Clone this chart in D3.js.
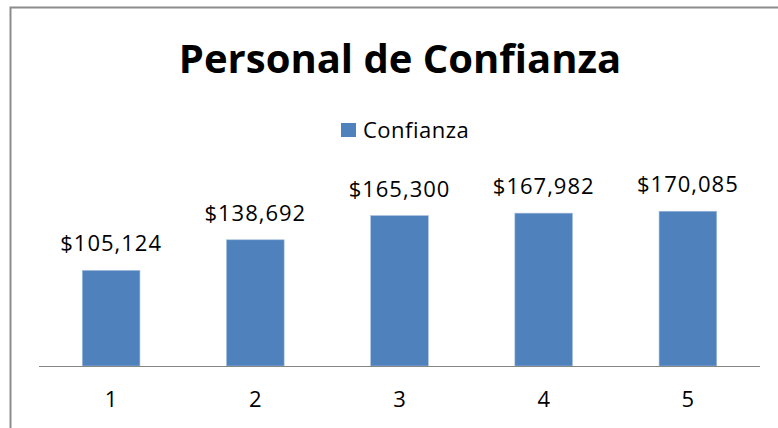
<!DOCTYPE html>
<html>
<head>
<meta charset="utf-8">
<script src="https://cdn.jsdelivr.net/npm/d3@7"></script>
<style>
  body { margin: 0; background: #fff; }
  text { font-family: "Open Sans", "Noto Sans", sans-serif; fill: #000; }
</style>
</head>
<body>
<div id="chart"></div>
<script>
// data
let categories = ["1", "2", "3", "4", "5"];
let values = [105124, 138692, 165300, 167982, 170085];
let seriesName = "Confianza";
let title = "Personal de Confianza";

let svgWidth = 778;
let svgHeight = 428;

let svg = d3.select("#chart").append("svg")
  .attr("width", svgWidth)
  .attr("height", svgHeight);

// chart border (runs off right and bottom)
svg.append("rect")
  .attr("x", 10.5).attr("y", 7.5)
  .attr("width", 800).attr("height", 500)
  .attr("fill", "#fff")
  .attr("stroke", "#8c8c8c")
  .attr("stroke-width", 2);

// title
svg.append("text")
  .attr("x", 400).attr("y", 73)
  .attr("text-anchor", "middle")
  .attr("font-size", "40px")
  .attr("font-weight", "bold")
  .text(title);

// legend
let legend = svg.append("g");
legend.append("rect")
  .attr("x", 341).attr("y", 123)
  .attr("width", 15).attr("height", 14)
  .attr("fill", "#4f81bd");
legend.append("text")
  .attr("x", 363).attr("y", 138)
  .attr("font-size", "22px")
  .attr("letter-spacing", "0.5px")
  .text(seriesName);

// scales
let x = d3.scaleBand()
  .domain(categories)
  .range([39, 760])
  .paddingInner(0.6)
  .paddingOuter(0.3);

let y = d3.scaleLinear()
  .domain([0, 200000])
  .range([366, 184]);

// bars
svg.selectAll(".bar")
  .data(values)
  .enter()
  .append("rect")
  .classed("bar", true)
  .attr("x", (d, i) => x(categories[i]))
  .attr("y", d => y(d))
  .attr("width", x.bandwidth())
  .attr("height", d => y(0) - y(d))
  .attr("fill", "#4f81bd")
  .attr("stroke", "#a7c0de")
  .attr("stroke-width", 0.6);

// value labels
let fmt = d3.format("$,");
svg.selectAll(".val")
  .data(values)
  .enter()
  .append("text")
  .classed("val", true)
  .attr("x", (d, i) => x(categories[i]) + x.bandwidth() / 2)
  .attr("y", d => y(d) - 19)
  .attr("text-anchor", "middle")
  .attr("font-size", "22px")
  .attr("letter-spacing", "1px")
  .text(d => fmt(d));

// x axis
let xAxis = svg.append("g")
  .attr("transform", `translate(0, ${y(0)})`)
  .call(d3.axisBottom(x).tickSize(0).tickPadding(25));
xAxis.select(".domain")
  .attr("stroke", "#868686")
  .attr("d", "M39,0.5H760");
xAxis.selectAll("text")
  .attr("font-size", "22px")
  .attr("fill", "#000");
</script>
</body>
</html>
